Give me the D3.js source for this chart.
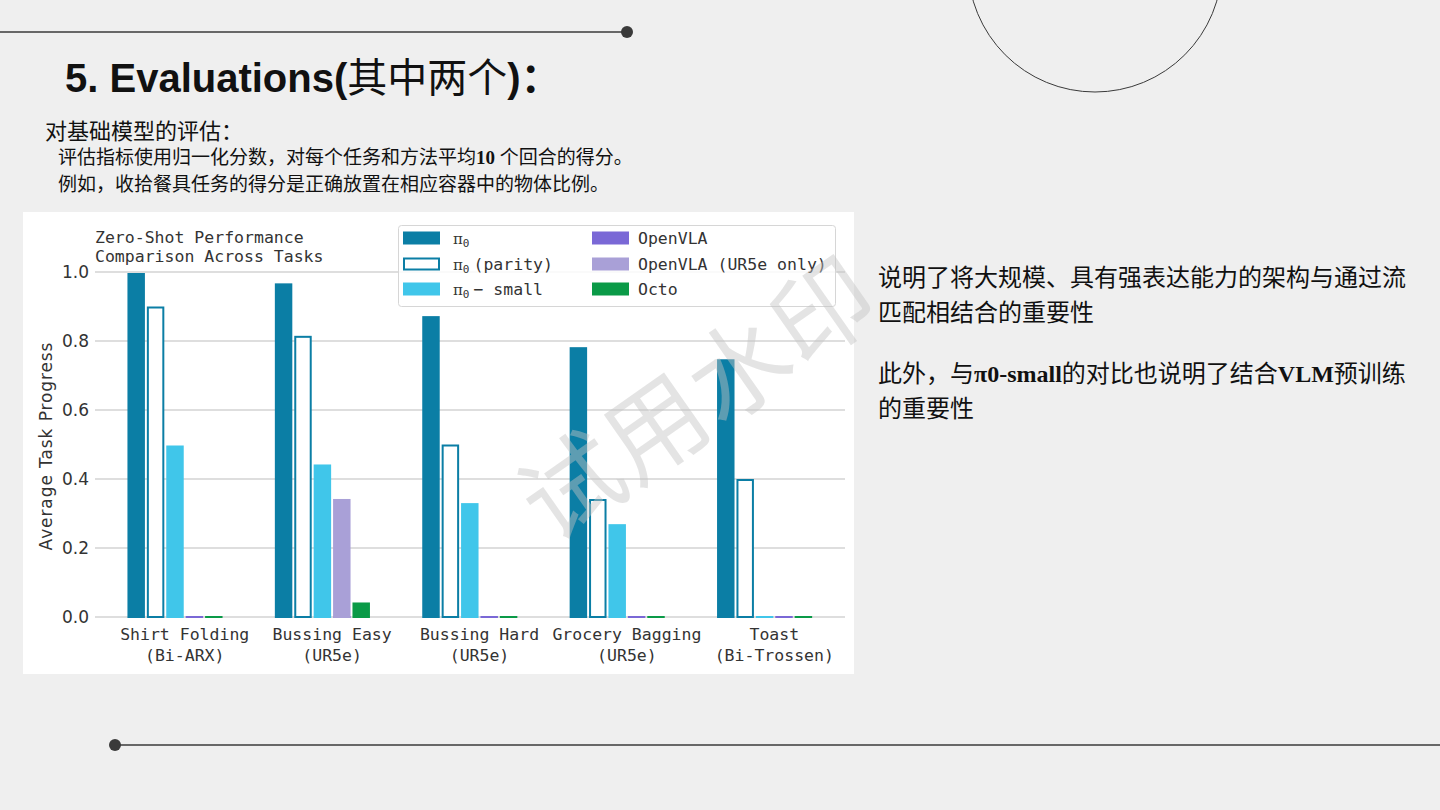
<!DOCTYPE html>
<html>
<head>
<meta charset="utf-8">
<script src="https://cdn.jsdelivr.net/npm/d3@7"></script>
<style>
  html, body { margin: 0; padding: 0; background: #efefef; }
  svg { display: block; }
</style>
</head>
<body>
<svg id="page" width="1440" height="810"></svg>
<script>
// ---------------- data ----------------
const taskNames = ["Shirt Folding", "Bussing Easy", "Bussing Hard", "Grocery Bagging", "Toast"];
const taskRobots = ["(Bi-ARX)", "(UR5e)", "(UR5e)", "(UR5e)", "(Bi-Trossen)"];
const seriesNames = ["π0", "π0 (parity)", "π0 − small", "OpenVLA", "OpenVLA (UR5e only)", "Octo"];
const pi0 = [1.0, 0.97, 0.875, 0.785, 0.75];
const pi0Parity = [0.9, 0.815, 0.5, 0.342, 0.4];
const pi0Small = [0.5, 0.445, 0.333, 0.272, 0.0];
const openVLA = [0.0, 0.0, 0.0, 0.0, 0.0];
const openVLAUR5e = [null, 0.345, null, null, null];
const octo = [0.0, 0.045, 0.0, 0.0, 0.0];
const yTicks = [0.0, 0.2, 0.4, 0.6, 0.8, 1.0];

const seriesValues = [pi0, pi0Parity, pi0Small, openVLA, openVLAUR5e, octo];
const seriesSlot = [0, 1, 2, 3, 3, 4];
const seriesColor = ["#0b7ea5", "#0b7ea5", "#40c6ea", "#7a68d6", "#a9a0d7", "#0a9a47"];
const seriesHollow = [false, true, false, false, false, false];

const svg = d3.select("#page");

// ---------------- slide decoration ----------------
svg.append("line").attr("x1", 0).attr("x2", 627).attr("y1", 32).attr("y2", 32)
  .attr("stroke", "#3a3a3a").attr("stroke-width", 1.5);
svg.append("circle").attr("cx", 627).attr("cy", 32).attr("r", 6).attr("fill", "#3a3a3a");
svg.append("line").attr("x1", 115).attr("x2", 1440).attr("y1", 745).attr("y2", 745)
  .attr("stroke", "#3a3a3a").attr("stroke-width", 1.5);
svg.append("circle").attr("cx", 115).attr("cy", 745).attr("r", 6).attr("fill", "#3a3a3a");
svg.append("circle").attr("cx", 1095).attr("cy", -35).attr("r", 127)
  .attr("fill", "none").attr("stroke", "#3a3a3a").attr("stroke-width", 1);

// title
const title = svg.append("text").attr("x", 65).attr("y", 92)
  .attr("font-size", 40).attr("fill", "#111");
title.append("tspan").attr("font-family", "'Liberation Sans', Arial, sans-serif")
  .attr("font-weight", "bold").text("5. Evaluations(");
title.append("tspan").attr("font-family", "'Noto Sans CJK SC', sans-serif")
  .attr("font-weight", "normal").text("其中两个");
title.append("tspan").attr("font-family", "'Liberation Sans', Arial, sans-serif")
  .attr("font-weight", "bold").text(")");
title.append("tspan").attr("font-family", "'Noto Sans CJK SC', sans-serif")
  .attr("font-weight", "bold").text("：");

const cjk = "'Noto Sans CJK SC', 'Liberation Serif', serif";
svg.append("text").attr("x", 45).attr("y", 139).attr("font-size", 22)
  .attr("font-family", cjk).attr("fill", "#111").text("对基础模型的评估：");
const l1 = svg.append("text").attr("x", 58).attr("y", 164).attr("font-size", 19)
  .attr("font-family", cjk).attr("fill", "#111");
l1.append("tspan").text("评估指标使用归一化分数，对每个任务和方法平均");
l1.append("tspan").attr("font-family", "'Liberation Serif', serif").attr("font-weight", "bold").text("10 ");
l1.append("tspan").text("个回合的得分。");
svg.append("text").attr("x", 58).attr("y", 191).attr("font-size", 19)
  .attr("font-family", cjk).attr("fill", "#111").text("例如，收拾餐具任务的得分是正确放置在相应容器中的物体比例。");

// right side notes
const rs = 24;
svg.append("text").attr("x", 878).attr("y", 286).attr("font-size", rs)
  .attr("font-family", cjk).attr("fill", "#111").text("说明了将大规模、具有强表达能力的架构与通过流");
svg.append("text").attr("x", 878).attr("y", 321).attr("font-size", rs)
  .attr("font-family", cjk).attr("fill", "#111").text("匹配相结合的重要性");
const p2 = svg.append("text").attr("x", 878).attr("y", 382).attr("font-size", rs)
  .attr("font-family", cjk).attr("fill", "#111");
p2.append("tspan").text("此外，与");
p2.append("tspan").attr("font-family", "'Liberation Serif', serif").attr("font-weight", "bold").text("π0-small");
p2.append("tspan").text("的对比也说明了结合");
p2.append("tspan").attr("font-family", "'Liberation Serif', serif").attr("font-weight", "bold").text("VLM");
p2.append("tspan").text("预训练");
svg.append("text").attr("x", 878).attr("y", 417).attr("font-size", rs)
  .attr("font-family", cjk).attr("fill", "#111").text("的重要性");

// ---------------- chart card ----------------
svg.append("rect").attr("x", 23).attr("y", 212).attr("width", 831).attr("height", 462).attr("fill", "#ffffff");

const mono = "'DejaVu Sans Mono', 'Liberation Mono', monospace";
const sans = "'DejaVu Sans', sans-serif";
const fs = 16.5;

const y = d3.scaleLinear().domain([0, 1]).range([617, 272]);
const x0 = d3.scaleBand().domain(d3.range(taskNames.length)).range([111, 848])
  .paddingInner(0.21).paddingOuter(0.105);
const x1 = d3.scaleBand().domain(d3.range(6)).range([0, x0.bandwidth()]).paddingInner(0.1).paddingOuter(0.05);

const plot = svg.append("g");

// grid
plot.selectAll("line.grid").data(yTicks).join("line")
  .attr("x1", 95).attr("x2", 845)
  .attr("y1", d => y(d)).attr("y2", d => y(d))
  .attr("stroke", "#d3d3d3").attr("stroke-width", 1.3);

// y axis ticks (labels only)
const yAxis = d3.axisLeft(y).tickValues(yTicks).tickFormat(d3.format(".1f")).tickSize(0).tickPadding(6);
const yg = plot.append("g").attr("transform", "translate(95,0)").call(yAxis);
yg.select(".domain").remove();
yg.selectAll("text").attr("font-family", sans).attr("font-size", 17).attr("fill", "#333").attr("dy", "0.35em");

svg.append("text").attr("transform", "translate(52,446) rotate(-90)")
  .attr("text-anchor", "middle").attr("font-family", sans).attr("font-size", 17)
  .attr("fill", "#333").attr("letter-spacing", 0.9).text("Average Task Progress");

// x axis labels
const xAxis = d3.axisBottom(x0).tickSize(0).tickFormat(() => "");
const xg = plot.append("g").attr("transform", "translate(0,617)").call(xAxis);
xg.select(".domain").remove();
xg.selectAll(".tick").each(function(d) {
  const t = d3.select(this).append("text").attr("text-anchor", "middle")
    .attr("font-family", mono).attr("font-size", fs).attr("fill", "#333");
  t.append("tspan").attr("x", 0).attr("y", 23).text(taskNames[d]);
  t.append("tspan").attr("x", 0).attr("y", 44).text(taskRobots[d]);
});

// bars
const barData = [];
seriesValues.forEach((vals, si) => {
  vals.forEach((v, ti) => {
    if (v !== null) barData.push({ si, ti, v });
  });
});
plot.selectAll("rect.bar").data(barData).join("rect")
  .attr("class", "bar")
  .attr("x", d => x0(d.ti) + x1(seriesSlot[d.si]) + (seriesHollow[d.si] ? 1 : 0))
  .attr("width", d => x1.bandwidth() - (seriesHollow[d.si] ? 2 : 0))
  .attr("y", d => {
    const h = Math.max(y(0) - y(d.v), 2);
    return y(0) - h + 1;
  })
  .attr("height", d => Math.max(y(0) - y(d.v), 2) - (seriesHollow[d.si] ? 1 : 0))
  .attr("fill", d => seriesHollow[d.si] ? "#ffffff" : seriesColor[d.si])
  .attr("stroke", d => seriesHollow[d.si] ? seriesColor[d.si] : "none")
  .attr("stroke-width", 2);

// chart title
const ct = svg.append("text").attr("font-family", mono).attr("font-size", fs).attr("fill", "#333");
ct.append("tspan").attr("x", 95).attr("y", 243).text("Zero-Shot Performance");
ct.append("tspan").attr("x", 95).attr("y", 262).text("Comparison Across Tasks");

// legend
const lg = svg.append("g");
lg.append("rect").attr("x", 398.5).attr("y", 225.5).attr("width", 437).attr("height", 81)
  .attr("rx", 3).attr("fill", "#ffffff").attr("fill-opacity", 0.85)
  .attr("stroke", "#d6d6d6").attr("stroke-width", 1);
const legendCols = [403, 592];
const legendRows = [238, 264, 289];
seriesNames.forEach((name, i) => {
  const col = Math.floor(i / 3), row = i % 3;
  const sx = legendCols[col], sy = legendRows[row];
  lg.append("rect").attr("x", sx + (seriesHollow[i] ? 1 : 0)).attr("y", sy - 6.5 + (seriesHollow[i] ? 1 : 0))
    .attr("width", 37 - (seriesHollow[i] ? 2 : 0)).attr("height", 13 - (seriesHollow[i] ? 2 : 0))
    .attr("fill", seriesHollow[i] ? "#fff" : seriesColor[i])
    .attr("stroke", seriesHollow[i] ? seriesColor[i] : "none").attr("stroke-width", 2);
  const t = lg.append("text").attr("x", sx + (col === 0 ? 50 : 46)).attr("y", sy + 6)
    .attr("font-family", mono).attr("font-size", fs).attr("fill", "#333");
  if (name.startsWith("π0")) {
    t.append("tspan").attr("font-family", "'DejaVu Serif', serif").attr("font-size", 15).text("π");
    t.append("tspan").attr("font-size", 11).attr("dy", 3).text("0");
    const rest = name.slice(2).trim();
    if (rest) t.append("tspan").attr("dy", -3).attr("dx", 4).text(rest);
  } else {
    t.text(name);
  }
});

// watermark
svg.append("text").attr("transform", "translate(552,545) rotate(-35)")
  .attr("font-family", "'Noto Sans CJK SC', sans-serif").attr("font-size", 100)
  .attr("font-weight", 400)
  .attr("fill", "#c4c4c4").attr("fill-opacity", 0.45)
  .attr("letter-spacing", 2)
  .text("试用水印");
</script>
</body>
</html>
